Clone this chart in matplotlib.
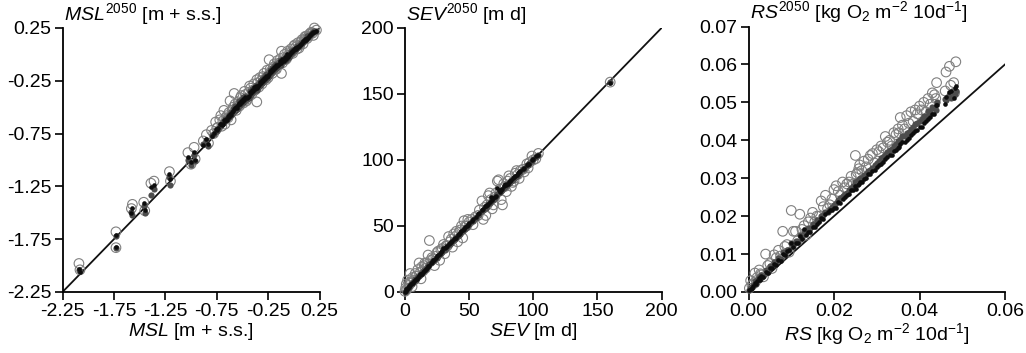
import matplotlib
matplotlib.use("Agg")
import matplotlib.pyplot as plt

plt.rcParams['font.family'] = ['Liberation Sans', 'DejaVu Sans']
plt.rcParams['mathtext.fontset'] = 'custom'
plt.rcParams['mathtext.rm'] = 'Liberation Sans'
plt.rcParams['mathtext.it'] = 'Liberation Sans:italic'
plt.rcParams['mathtext.bf'] = 'Liberation Sans:bold'
plt.rcParams['axes.unicode_minus'] = False

# ---------------- Panel 1: MSL ----------------
msl_x = [-2.09, -2.08, -1.73, -1.73, -1.57, -1.58, -1.46, -1.45, -1.39, -1.36,
         -1.21, -1.20, -1.03, -1.00, -0.97, -0.96, -0.88, -0.85, -0.83,
         -0.80, -0.78, -0.76, -0.74, -0.72, -0.70, -0.68, -0.66, -0.64, -0.62,
         -0.60, -0.58, -0.56, -0.54, -0.52, -0.50, -0.48, -0.46, -0.44, -0.42,
         -0.40, -0.38, -0.36, -0.34, -0.32, -0.30, -0.28, -0.26, -0.24, -0.22,
         -0.20, -0.18, -0.16, -0.14, -0.12, -0.10, -0.08, -0.06, -0.04, -0.02,
         0.00, 0.02, 0.04, 0.06, 0.08, 0.10, 0.12, 0.14, 0.16, 0.18, 0.20,
         -0.55, -0.45, -0.35, -0.25, -0.15, -0.05, 0.05, 0.15, -0.65, -0.75, 0.22,
         -0.69, -0.63, -0.59, -0.57, -0.53, -0.51, -0.49, -0.47, -0.43, -0.41,
         -0.39, -0.37, -0.33, -0.31, -0.29, -0.27, -0.23, -0.21, -0.19, -0.17,
         -0.13, -0.11, -0.09, -0.07, -0.03, -0.01, 0.01, 0.03, 0.07, 0.09,
         0.11, 0.13, 0.17, 0.19, -0.71, -0.67, -0.61, -0.36, -0.12]
msl_open = [-1.98, -2.04, -1.68, -1.83, -1.42, -1.46, -1.40, -1.48, -1.22, -1.20,
            -1.11, -1.20, -0.93, -1.04, -0.88, -0.99, -0.82, -0.76, -0.84,
            -0.72, -0.75, -0.64, -0.69, -0.62, -0.68, -0.53, -0.60, -0.60, -0.44,
            -0.53, -0.37, -0.53, -0.45, -0.41, -0.45, -0.35, -0.44, -0.36, -0.32,
            -0.34, -0.34, -0.24, -0.31, -0.25, -0.21, -0.23, -0.15, -0.05, -0.16,
            -0.12, -0.14, -0.06, -0.08, 0.03, -0.03, -0.05, 0.03, 0.02, 0.02,
            0.08, 0.07, 0.11, 0.09, 0.14, 0.14, 0.17, 0.17, 0.20, 0.20, 0.25,
            -0.49, -0.42, -0.27, -0.22, -0.10, -0.01, 0.06, 0.19, -0.58, -0.70, 0.23,
            -0.63, -0.55, -0.50, -0.47, -0.49, -0.39, -0.46, -0.38, -0.30, -0.38,
            -0.28, -0.33, -0.22, -0.28, -0.18, -0.24, -0.14, -0.18, -0.09, -0.14,
            -0.04, -0.08, 0.00, -0.04, 0.05, 0.01, 0.09, 0.05, 0.12, 0.10,
            0.17, 0.15, 0.21, 0.18, -0.58, -0.66, -0.62, -0.45, -0.18]
msl_black = [-2.03, -2.06, -1.71, -1.82, -1.45, -1.50, -1.41, -1.47, -1.26, -1.24,
             -1.13, -1.18, -0.97, -1.02, -0.92, -1.00, -0.86, -0.80, -0.85,
             -0.77, -0.74, -0.71, -0.70, -0.66, -0.67, -0.62, -0.61, -0.58, -0.56,
             -0.55, -0.52, -0.50, -0.48, -0.47, -0.45, -0.43, -0.41, -0.39, -0.37,
             -0.35, -0.33, -0.31, -0.29, -0.27, -0.25, -0.23, -0.21, -0.19, -0.17,
             -0.15, -0.13, -0.11, -0.09, -0.07, -0.06, -0.04, -0.02, 0.00, 0.02,
             0.04, 0.05, 0.07, 0.09, 0.11, 0.13, 0.14, 0.16, 0.18, 0.20, 0.21,
             -0.51, -0.40, -0.30, -0.20, -0.10, -0.01, 0.08, 0.17, -0.62, -0.72, 0.22,
             -0.66, -0.59, -0.54, -0.51, -0.46, -0.44, -0.42, -0.40, -0.36, -0.34,
             -0.31, -0.30, -0.26, -0.24, -0.22, -0.20, -0.16, -0.14, -0.12, -0.10,
             -0.06, -0.04, -0.02, 0.00, 0.02, 0.04, 0.06, 0.07, 0.10, 0.13,
             0.15, 0.16, 0.19, 0.21, -0.66, -0.63, -0.57, -0.32, -0.08]
msl_grey = [-2.04, -2.05, -1.72, -1.83, -1.52, -1.49, -1.44, -1.50, -1.33, -1.27,
            -1.16, -1.24, -1.00, -1.05, -0.95, -1.01, -0.85, -0.81, -0.87,
            -0.76, -0.75, -0.73, -0.71, -0.68, -0.66, -0.64, -0.62, -0.60, -0.58,
            -0.56, -0.53, -0.51, -0.50, -0.48, -0.46, -0.44, -0.42, -0.41, -0.38,
            -0.36, -0.34, -0.32, -0.30, -0.28, -0.26, -0.24, -0.22, -0.20, -0.18,
            -0.16, -0.14, -0.12, -0.10, -0.08, -0.06, -0.05, -0.03, -0.01, 0.01,
            0.03, 0.05, 0.07, 0.09, 0.11, 0.13, 0.15, 0.17, 0.18, 0.20, 0.22,
            -0.52, -0.41, -0.31, -0.21, -0.11, -0.02, 0.08, 0.17, -0.61, -0.73, 0.22,
            -0.64, -0.57, -0.52, -0.49, -0.44, -0.43, -0.40, -0.39, -0.35, -0.33,
            -0.32, -0.29, -0.25, -0.23, -0.21, -0.19, -0.15, -0.13, -0.11, -0.09,
            -0.05, -0.05, -0.03, -0.01, 0.03, 0.04, 0.05, 0.08, 0.11, 0.12,
            0.14, 0.17, 0.19, 0.21, -0.67, -0.61, -0.55, -0.34, -0.10]
msl_ticks = [-2.25, -1.75, -1.25, -0.75, -0.25, 0.25]
msl_ticklabels = ['-2.25', '-1.75', '-1.25', '-0.75', '-0.25', '0.25']

# ---------------- Panel 2: SEV ----------------
sev_x = [0, 0.5, 1, 1.5, 2, 3, 4, 5, 6, 7, 8, 9, 10, 11, 12, 13, 14, 15, 16, 17,
         18, 19, 20, 22, 24, 26, 28, 30, 32, 34, 36, 38, 40, 42, 44, 46, 48, 50,
         52, 55, 58, 60, 61, 62, 64, 66, 67, 68, 70, 72, 74, 76, 77, 78, 80, 82,
         84, 86, 88, 90, 92, 95, 97, 100, 102, 104, 160,
         3.5, 5.5, 8.5, 12.5, 15.5, 21, 23, 25, 27, 29, 31, 33, 35, 37, 39, 41,
         43, 45, 47, 49, 53, 57, 63, 65, 69, 71, 73, 75, 79, 81, 83, 85, 87, 89,
         93, 96, 99]
sev_open = [0.5, 3, 6, 2, 9, 5, 14, 8, 11, 9, 14, 12, 17, 22, 15, 19, 16, 20, 18, 22,
            28, 39, 24, 25, 27, 31, 32, 36, 35, 42, 40, 44, 46, 45, 50, 54, 50, 53,
            55, 57, 62, 69, 55, 64, 66, 75, 70, 63, 72, 84, 78, 66, 82, 80, 84, 86,
            83, 90, 89, 92, 93, 97, 98, 100, 101, 105, 159,
            7, 4, 12, 10, 22, 26, 20, 30, 24, 33, 29, 35, 38, 34, 42, 38,
            47, 41, 50, 55, 51, 58, 58, 73, 66, 75, 85, 70, 76, 88, 80, 84, 92, 86,
            91, 94, 103]
sev_black = [0.3, 1, 2, 2.5, 3, 4, 5, 6, 7, 8.5, 9, 10, 11.5, 12, 13.5, 14, 15.5, 16,
             17.5, 18, 19.5, 20, 22, 24, 26, 28, 30, 33, 34, 36, 38, 40, 41, 44, 46,
             48, 50, 52, 54, 57, 60, 62, 63, 65, 66, 68, 72, 70, 72, 79, 76, 78, 80,
             82, 82, 84, 86, 88, 90, 92, 93, 96, 97, 101, 103, 104, 158,
             4.5, 6.5, 9.5, 14, 17, 23, 24.5, 27, 29, 31, 33, 35, 37, 39, 41, 43,
             45, 47, 49, 51, 55, 59, 65, 67, 71, 73, 77, 77, 81, 83, 85, 87, 89, 91,
             94, 97, 100]
sev_grey = [0.2, 1, 1.5, 2, 3, 4, 5, 6, 7.5, 8, 9.5, 10.5, 12, 12.5, 13, 15, 15.5, 17,
            17.5, 19, 20, 21, 22, 23.5, 25.5, 27, 29.5, 31.5, 33.5, 35.5, 37.5, 39.5,
            41.5, 43.5, 45.5, 47.5, 49.5, 51.5, 53.5, 56, 59, 61.5, 62, 63.5, 65.5,
            67.5, 69, 70, 71.5, 74, 75.5, 77, 79, 80, 81.5, 83.5, 85, 87.5, 89, 91,
            93.5, 96, 97.5, 100.5, 102, 104, 159,
            4, 6, 9, 13.5, 16.5, 22.5, 24, 26, 28.5, 30.5, 32, 34.5, 36, 38.5, 40,
            42.5, 44, 46.5, 48, 50.5, 54, 58.5, 64, 66.5, 70, 72.5, 75, 76.5, 80,
            82.5, 84, 86.5, 88, 90.5, 93, 96.5, 99.5]
sev_ticks = [0, 50, 100, 150, 200]

# ---------------- Panel 3: RS ----------------
rs_x = [0.0002, 0.0005, 0.0010, 0.0015, 0.0020, 0.0025, 0.0030, 0.0040, 0.0050,
        0.0060, 0.0070, 0.0080, 0.0090, 0.0100, 0.0110, 0.0120, 0.0130, 0.0140,
        0.0150, 0.0160, 0.0170, 0.0180, 0.0190, 0.0200, 0.0210, 0.0220, 0.0230,
        0.0240, 0.0250, 0.0255, 0.0260, 0.0270, 0.0280, 0.0290, 0.0300, 0.0310,
        0.0320, 0.0330, 0.0340, 0.0350, 0.0355, 0.0360, 0.0370, 0.0380, 0.0390,
        0.0400, 0.0410, 0.0420, 0.0430, 0.0440, 0.0460, 0.0470, 0.0480, 0.0485,
        0.0008, 0.0018, 0.0028, 0.0035, 0.0045, 0.0055, 0.0065, 0.0075, 0.0085,
        0.0095, 0.0105, 0.0115, 0.0125, 0.0135, 0.0145, 0.0155, 0.0165, 0.0175,
        0.0185, 0.0195, 0.0205, 0.0215, 0.0225, 0.0235, 0.0245, 0.0252, 0.0258,
        0.0265, 0.0275, 0.0285, 0.0295, 0.0305, 0.0315, 0.0325, 0.0335, 0.0345,
        0.0352, 0.0365, 0.0375, 0.0385, 0.0395, 0.0405, 0.0415, 0.0425, 0.0435,
        0.0438, 0.0462, 0.0473, 0.0482]
rs_open = [0.0010, 0.0030, 0.0022, 0.0050, 0.0038, 0.0058, 0.0045, 0.0100, 0.0075,
           0.0098, 0.0110, 0.0160, 0.0125, 0.0215, 0.0160, 0.0205, 0.0175, 0.0185,
           0.0210, 0.0200, 0.0240, 0.0255, 0.0230, 0.0270, 0.0265, 0.0290, 0.0285,
           0.0305, 0.0360, 0.0315, 0.0335, 0.0345, 0.0350, 0.0365, 0.0375, 0.0385,
           0.0410, 0.0400, 0.0420, 0.0430, 0.0460, 0.0440, 0.0465, 0.0475, 0.0480,
           0.0490, 0.0500, 0.0510, 0.0525, 0.0552, 0.0530, 0.0595, 0.0552, 0.0607,
           0.0018, 0.0030, 0.0048, 0.0040, 0.0070, 0.0062, 0.0090, 0.0095, 0.0120,
           0.0105, 0.0160, 0.0135, 0.0165, 0.0150, 0.0195, 0.0185, 0.0200, 0.0225,
           0.0220, 0.0245, 0.0280, 0.0255, 0.0275, 0.0290, 0.0285, 0.0310, 0.0325,
           0.0320, 0.0330, 0.0360, 0.0340, 0.0370, 0.0380, 0.0395, 0.0385, 0.0415,
           0.0420, 0.0430, 0.0445, 0.0450, 0.0470, 0.0480, 0.0475, 0.0495, 0.0520,
           0.0510, 0.0580, 0.0545, 0.0525]
rs_black = [0.0004, 0.0008, 0.0015, 0.0024, 0.0030, 0.0036, 0.0042, 0.0052, 0.0063,
            0.0074, 0.0085, 0.0100, 0.0108, 0.0128, 0.0130, 0.0148, 0.0165, 0.0158,
            0.0172, 0.0180, 0.0195, 0.0205, 0.0215, 0.0222, 0.0238, 0.0245, 0.0255,
            0.0268, 0.0280, 0.0282, 0.0290, 0.0298, 0.0310, 0.0318, 0.0330, 0.0338,
            0.0350, 0.0362, 0.0372, 0.0380, 0.0390, 0.0395, 0.0400, 0.0415, 0.0425,
            0.0435, 0.0445, 0.0455, 0.0468, 0.0492, 0.0495, 0.0528, 0.0512, 0.0542,
            0.0010, 0.0020, 0.0032, 0.0040, 0.0050, 0.0062, 0.0072, 0.0082, 0.0098,
            0.0110, 0.0118, 0.0130, 0.0140, 0.0150, 0.0158, 0.0172, 0.0185, 0.0192,
            0.0210, 0.0215, 0.0222, 0.0235, 0.0250, 0.0258, 0.0270, 0.0272, 0.0285,
            0.0290, 0.0300, 0.0312, 0.0322, 0.0335, 0.0342, 0.0355, 0.0362, 0.0375,
            0.0382, 0.0395, 0.0405, 0.0418, 0.0428, 0.0435, 0.0450, 0.0462, 0.0470,
            0.0492, 0.0514, 0.0529, 0.0538]
rs_grey = [0.0006, 0.0010, 0.0018, 0.0028, 0.0032, 0.0040, 0.0045, 0.0058, 0.0068,
           0.0080, 0.0090, 0.0105, 0.0112, 0.0130, 0.0135, 0.0150, 0.0160, 0.0168,
           0.0178, 0.0190, 0.0200, 0.0212, 0.0220, 0.0230, 0.0242, 0.0252, 0.0262,
           0.0275, 0.0290, 0.0295, 0.0300, 0.0308, 0.0318, 0.0328, 0.0340, 0.0352,
           0.0362, 0.0375, 0.0385, 0.0398, 0.0402, 0.0410, 0.0420, 0.0430, 0.0442,
           0.0452, 0.0465, 0.0478, 0.0488, 0.0500, 0.0510, 0.0520, 0.0525, 0.0530,
           0.0012, 0.0022, 0.0034, 0.0042, 0.0054, 0.0066, 0.0078, 0.0088, 0.0100,
           0.0112, 0.0122, 0.0134, 0.0146, 0.0155, 0.0168, 0.0178, 0.0190, 0.0202,
           0.0212, 0.0225, 0.0235, 0.0248, 0.0258, 0.0268, 0.0280, 0.0285, 0.0292,
           0.0300, 0.0312, 0.0322, 0.0335, 0.0345, 0.0355, 0.0368, 0.0378, 0.0390,
           0.0398, 0.0412, 0.0422, 0.0435, 0.0445, 0.0455, 0.0465, 0.0475, 0.0485,
           0.0480, 0.0505, 0.0512, 0.0522]
rs_xticks = [0.00, 0.02, 0.04, 0.06]
rs_yticks = [0.00, 0.01, 0.02, 0.03, 0.04, 0.05, 0.06, 0.07]

FIG_W, FIG_H = 1026, 353
FS = 14
fig = plt.figure(figsize=(FIG_W / 100, FIG_H / 100), dpi=100)


def make_axes(left_px, right_px, top_px=28, bottom_px=292):
    return fig.add_axes([left_px / FIG_W, 1 - bottom_px / FIG_H,
                         (right_px - left_px) / FIG_W, (bottom_px - top_px) / FIG_H])


def style(ax):
    for s in ['top', 'right']:
        ax.spines[s].set_visible(False)
    for s in ['left', 'bottom']:
        ax.spines[s].set_linewidth(1.3)
    ax.tick_params(direction='out', length=6, width=1.2, labelsize=FS, pad=2)


def scatter3(ax, x, yo, yb, yg):
    ax.scatter(x, yo, s=48, facecolors='none', edgecolors='#808080',
               linewidths=0.8, zorder=3, clip_on=False)
    ax.scatter(x, yg, s=20, color='#4d4d4d', linewidths=0, zorder=4, clip_on=False)
    ax.scatter(x, yb, s=11, color='#0d0d0d', linewidths=0, zorder=5, clip_on=False)


# Panel 1
ax1 = make_axes(62.5, 319.5)
scatter3(ax1, msl_x, msl_open, msl_black, msl_grey)
ax1.plot([msl_ticks[0], msl_ticks[-1]], [msl_ticks[0], msl_ticks[-1]],
         color='#111111', lw=1.3, zorder=2)
ax1.set_xlim(-2.25, 0.25)
ax1.set_ylim(-2.25, 0.25)
ax1.set_xticks(msl_ticks)
ax1.set_xticklabels(msl_ticklabels)
ax1.set_yticks(msl_ticks)
ax1.set_yticklabels(msl_ticklabels)
style(ax1)
ax1.set_xlabel(r'$\mathit{MSL}$ [m + s.s.]', fontsize=FS, labelpad=1)
ax1.text(0.005, 1.03, r'$\mathit{MSL}^{\mathrm{2050}}$ [m + s.s.]', fontsize=FS,
         transform=ax1.transAxes, ha='left', va='baseline')

# Panel 2
ax2 = make_axes(405, 661.5)
scatter3(ax2, sev_x, sev_open, sev_black, sev_grey)
ax2.plot([0, 200], [0, 200], color='#111111', lw=1.3, zorder=2)
ax2.set_xlim(0, 200)
ax2.set_ylim(0, 200)
ax2.set_xticks(sev_ticks)
ax2.set_yticks(sev_ticks)
style(ax2)
ax2.set_xlabel(r'$\mathit{SEV}$ [m d]', fontsize=FS, labelpad=1)
ax2.text(0.005, 1.03, r'$\mathit{SEV}^{\mathrm{2050}}$ [m d]', fontsize=FS,
         transform=ax2.transAxes, ha='left', va='baseline')

# Panel 3
ax3 = make_axes(748.5, 1005, top_px=26.5)
scatter3(ax3, rs_x, rs_open, rs_black, rs_grey)
ax3.plot([0, 0.06], [0, 0.06], color='#111111', lw=1.3, zorder=2)
ax3.set_xlim(0, 0.06)
ax3.set_ylim(0, 0.07)
ax3.set_xticks(rs_xticks)
ax3.set_xticklabels(['%.2f' % v for v in rs_xticks])
ax3.set_yticks(rs_yticks)
ax3.set_yticklabels(['%.2f' % v for v in rs_yticks])
style(ax3)
ax3.set_xlabel(r'$\mathit{RS}$ [kg O$_{\mathrm{2}}$ m$^{\mathrm{-2}}$ 10d$^{\mathrm{-1}}$]',
               fontsize=FS, labelpad=1)
ax3.text(0.005, 1.03, r'$\mathit{RS}^{\mathrm{2050}}$ [kg O$_{\mathrm{2}}$ m$^{\mathrm{-2}}$ 10d$^{\mathrm{-1}}$]',
         fontsize=FS, transform=ax3.transAxes, ha='left', va='baseline')

fig.savefig('out.png', dpi=100)
